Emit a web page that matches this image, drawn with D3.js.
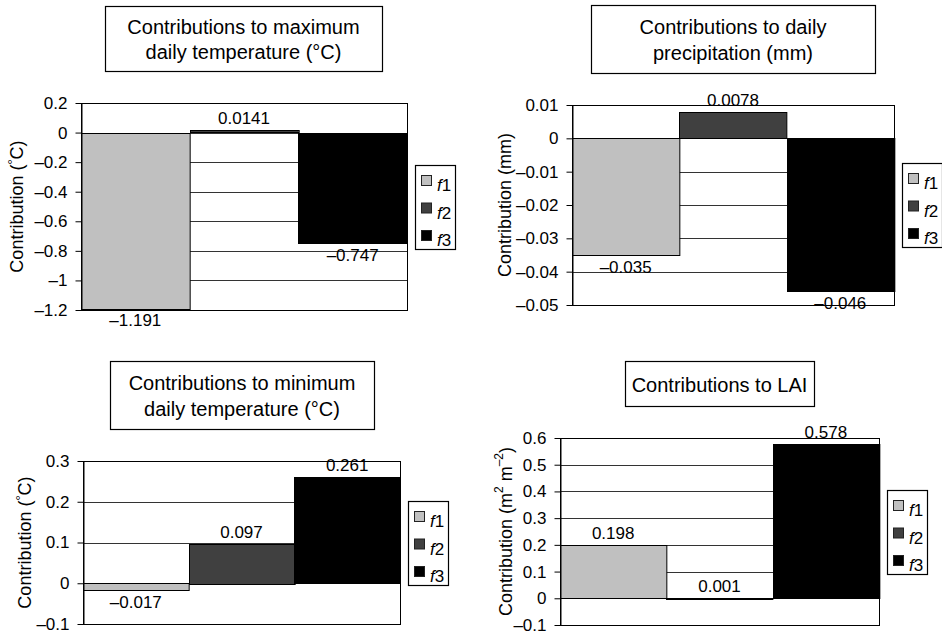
<!DOCTYPE html>
<html>
<head>
<meta charset="utf-8">
<script src="https://cdn.jsdelivr.net/npm/d3@7"></script>
<style>
  html, body { margin: 0; padding: 0; background: #fff; }
  svg { display: block; font-family: "Liberation Sans", Arial, Helvetica, sans-serif; }
</style>
</head>
<body>
<svg id="chart" width="942" height="635"></svg>
<script>
// ---------- data ----------
const seriesNames = ["f1", "f2", "f3"];
const seriesColors = ["#c0c0c0", "#404040", "#000000"];

const maxTempValues = [-1.191, 0.0141, -0.747];
const precipValues  = [-0.035, 0.0078, -0.046];
const minTempValues = [-0.017, 0.097, 0.261];
const laiValues     = [0.198, 0.001, 0.578];

const maxTempTicks = [0.2, 0, -0.2, -0.4, -0.6, -0.8, -1, -1.2];
const precipTicks  = [0.01, 0, -0.01, -0.02, -0.03, -0.04, -0.05];
const minTempTicks = [0.3, 0.2, 0.1, 0, -0.1];
const laiTicks     = [0.6, 0.5, 0.4, 0.3, 0.2, 0.1, 0, -0.1];

const maxTempTitle = ["Contributions to maximum", "daily temperature (°C)"];
const precipTitle  = ["Contributions to daily", "precipitation (mm)"];
const minTempTitle = ["Contributions to minimum", "daily temperature (°C)"];
const laiTitle     = ["Contributions to LAI"];

// ---------- layout ----------
const panels = [
  { values: maxTempValues, ticks: maxTempTicks, title: maxTempTitle, ylabel: "degC",
    plot: {l: 81, t: 103, r: 407, b: 310}, tbox: {x: 105, y: 6, w: 277, h: 65}, ylx: 17 },
  { values: precipValues, ticks: precipTicks, title: precipTitle, ylabel: "mm",
    plot: {l: 572, t: 105, r: 894, b: 305}, tbox: {x: 591, y: 5, w: 284, h: 68}, ylx: 505 },
  { values: minTempValues, ticks: minTempTicks, title: minTempTitle, ylabel: "degC",
    plot: {l: 83, t: 461, r: 400, b: 624}, tbox: {x: 110, y: 361, w: 264, h: 68}, ylx: 25 },
  { values: laiValues, ticks: laiTicks, title: laiTitle, ylabel: "lai",
    plot: {l: 560, t: 438, r: 879, b: 625}, tbox: {x: 625, y: 361, w: 189, h: 45}, ylx: 506 }
];

const fmt = v => String(v).replace("-", "\u2013");

const svg = d3.select("#chart");

panels.forEach(p => {
  const g = svg.append("g");
  const {l, t, r, b} = p.plot;
  const y = d3.scaleLinear().domain([d3.min(p.ticks), d3.max(p.ticks)]).range([b, t]);
  const x = d3.scaleBand().domain(seriesNames).range([l, r]).padding(0);

  // plot background
  g.append("rect").attr("x", l).attr("y", t).attr("width", r - l).attr("height", b - t)
    .attr("fill", "#fff");

  // gridlines
  g.append("g").selectAll("line").data(p.ticks.filter(v => v !== d3.min(p.ticks) && v !== d3.max(p.ticks)))
    .join("line")
    .attr("x1", l).attr("x2", r)
    .attr("y1", d => Math.round(y(d)) + 0.5).attr("y2", d => Math.round(y(d)) + 0.5)
    .attr("stroke", "#333").attr("stroke-width", 1);

  // bars
  g.append("g").selectAll("rect").data(p.values.map((v, i) => ({v, i})))
    .join("rect")
    .attr("x", d => Math.round(x(seriesNames[d.i])) + 0.5)
    .attr("width", x.bandwidth())
    .attr("y", d => Math.round(Math.min(y(d.v), y(0))) + 0.5)
    .attr("height", d => Math.max(1, Math.round(Math.abs(y(d.v) - y(0)))))
    .attr("fill", d => seriesColors[d.i])
    .attr("stroke", "#000").attr("stroke-width", 1);

  // plot border
  g.append("rect").attr("x", l + 0.5).attr("y", t + 0.5).attr("width", r - l).attr("height", b - t)
    .attr("fill", "none").attr("stroke", "#000").attr("stroke-width", 1);

  // axis
  const ax = g.append("g").attr("transform", `translate(${l + 0.5},0)`)
    .call(d3.axisLeft(y).tickValues(p.ticks).tickSize(6).tickSizeOuter(0).tickPadding(8).tickFormat(fmt));
  ax.attr("font-size", 17).attr("font-family", "'Liberation Sans', Arial, sans-serif");
  ax.select(".domain").attr("stroke", "#000");
  ax.selectAll(".tick line").attr("stroke", "#000");
  ax.selectAll(".tick text").attr("fill", "#000");

  // data labels
  g.append("g").selectAll("text").data(p.values.map((v, i) => ({v, i})))
    .join("text")
    .attr("x", d => x(seriesNames[d.i]) + x.bandwidth() / 2)
    .attr("y", d => d.v >= 0 ? y(d.v) - 6 : y(d.v) + 17.5)
    .attr("text-anchor", "middle").attr("font-size", 17).attr("fill", "#000")
    .text(d => fmt(d.v));

  // y-axis label
  const yl = g.append("text")
    .attr("transform", `translate(${p.ylx},${(t + b) / 2}) rotate(-90)`)
    .attr("text-anchor", "middle").attr("dominant-baseline", "central")
    .attr("font-size", 18).attr("fill", "#000");
  if (p.ylabel === "degC") {
    yl.append("tspan").text("Contribution (");
    yl.append("tspan").attr("font-size", 13).attr("dy", -5).text("°");
    yl.append("tspan").attr("dy", 5).text("C)");
  } else if (p.ylabel === "mm") {
    yl.text("Contribution (mm)");
  } else {
    yl.append("tspan").text("Contribution (m");
    yl.append("tspan").attr("font-size", 12).attr("dy", -7).text("2");
    yl.append("tspan").attr("dy", 7).text(" m");
    yl.append("tspan").attr("font-size", 12).attr("dy", -7).text("\u20132");
    yl.append("tspan").attr("dy", 7).text(")");
  }

  // title box
  const tb = p.tbox;
  g.append("rect").attr("x", tb.x + 0.5).attr("y", tb.y + 0.5).attr("width", tb.w).attr("height", tb.h)
    .attr("fill", "#fff").attr("stroke", "#000").attr("stroke-width", 1.2);
  const cy = tb.y + tb.h / 2;
  const n = p.title.length;
  g.append("g").selectAll("text").data(p.title).join("text")
    .attr("x", tb.x + tb.w / 2)
    .attr("y", (d, i) => cy - (n - 1) * 12.8 + 8 + i * 25.6)
    .attr("text-anchor", "middle").attr("font-size", 20).attr("fill", "#000")
    .text(d => d);

  // legend
  const lw = 40, lh = 84;
  const lx = r + 7.5, ly = (t + b) / 2 - lh / 2;
  const lg = g.append("g");
  lg.append("rect").attr("x", Math.round(lx) + 0.5).attr("y", Math.round(ly) + 0.5)
    .attr("width", lw).attr("height", lh)
    .attr("fill", "#fff").attr("stroke", "#000").attr("stroke-width", 1.2);
  seriesNames.forEach((s, i) => {
    lg.append("rect").attr("x", Math.round(lx) + 6.5).attr("y", Math.round(ly) + 10.5 + i * 27.5)
      .attr("width", 10).attr("height", 10)
      .attr("fill", seriesColors[i]).attr("stroke", "#222").attr("stroke-width", 1);
    const tx = lg.append("text").attr("x", Math.round(lx) + 22).attr("y", Math.round(ly) + 26 + i * 27.5)
      .attr("font-size", 17).attr("fill", "#000");
    tx.append("tspan").attr("font-style", "italic").text(s.charAt(0));
    tx.append("tspan").text(s.slice(1));
  });
});
</script>
</body>
</html>
